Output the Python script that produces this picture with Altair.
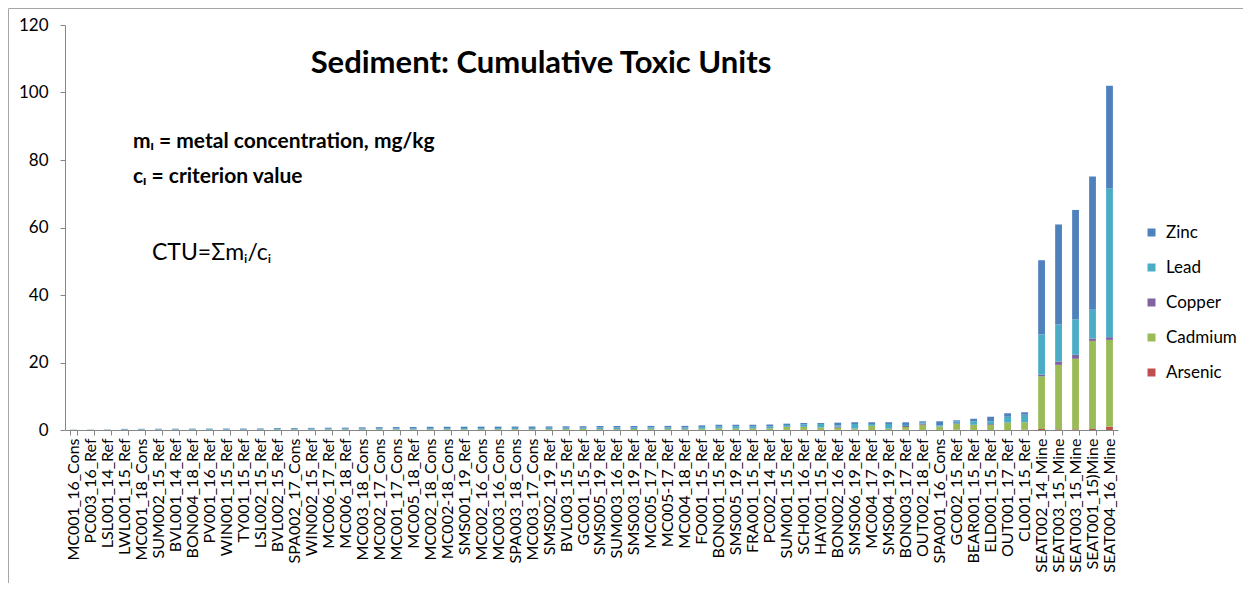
import json
import altair as alt
import pandas as pd

sites = [
    "MC001_16_Cons", "PC003_16_Ref", "LSL001_14_Ref", "LWL001_15_Ref", "MC001_18_Cons",
    "SUM002_15_Ref", "BVL001_14_Ref", "BON004_18_Ref", "PV001_16_Ref", "WIN001_15_Ref",
    "TY001_15_Ref", "LSL002_15_Ref", "BVL002_15_Ref", "SPA002_17_Cons", "WIN002_15_Ref",
    "MC006_17_Ref", "MC006_18_Ref", "MC003_18_Cons", "MC002_17_Cons", "MC001_17_Cons",
    "MC005_18_Ref", "MC002_18_Cons", "MC002-18_Cons", "SMS001_19_Ref", "MC002_16_Cons",
    "MC003_16_Cons", "SPA003_18_Cons", "MC003_17_Cons", "SMS002_19_Ref", "BVL003_15_Ref",
    "GC001_15_Ref", "SMS005_19_Ref", "SUM003_16_Ref", "SMS003_19_Ref", "MC005_17_Ref",
    "MC005-17_Ref", "MC004_18_Ref", "FO001_15_Ref", "BON001_15_Ref", "SMS005_19_Ref",
    "FRA001_15_Ref", "PC002_14_Ref", "SUM001_15_Ref", "SCH001_16_Ref", "HAY001_15_Ref",
    "BON002_16_Ref", "SMS006_19_Ref", "MC004_17_Ref", "SMS004_19_Ref", "BON003_17_Ref",
    "OUT002_18_Ref", "SPA001_16_Cons", "GC002_15_Ref", "BEAR001_15_Ref", "ELD001_15_Ref",
    "OUT001_17_Ref", "CL001_15_Ref", "SEAT002_14_Mine", "SEAT003_15_Mine", "SEAT003_15_Mine",
    "SEAT001_15)Mine", "SEAT004_16_Mine",
]

arsenic = [0.00, 0.00, 0.01, 0.01, 0.01, 0.01, 0.01, 0.01, 0.01, 0.01,
           0.01, 0.01, 0.01, 0.01, 0.01, 0.01, 0.01, 0.01, 0.02, 0.02,
           0.02, 0.02, 0.02, 0.02, 0.02, 0.02, 0.02, 0.02, 0.02, 0.02,
           0.02, 0.02, 0.02, 0.02, 0.03, 0.02, 0.03, 0.03, 0.03, 0.03,
           0.03, 0.03, 0.02, 0.02, 0.02, 0.02, 0.05, 0.02, 0.02, 0.10,
           0.03, 0.02, 0.10, 0.03, 0.03, 0.03, 0.10, 0.3, 0.2, 0.2,
           0.3, 1.0]
cadmium = [0.02, 0.02, 0.02, 0.05, 0.07, 0.06, 0.06, 0.07, 0.06, 0.05,
           0.05, 0.07, 0.10, 0.12, 0.10, 0.12, 0.12, 0.14, 0.15, 0.16,
           0.14, 0.17, 0.16, 0.18, 0.16, 0.18, 0.20, 0.17, 0.22, 0.25,
           0.30, 0.20, 0.22, 0.24, 0.28, 0.26, 0.20, 0.30, 0.40, 0.35,
           0.42, 0.45, 0.87, 0.87, 0.67, 0.67, 0.35, 1.17, 0.38, 0.79,
           1.55, 0.97, 1.68, 1.45, 1.55, 2.14, 2.17, 15.6, 19.1, 20.9,
           26.1, 25.7]
copper = [0.01, 0.01, 0.01, 0.01, 0.02, 0.02, 0.02, 0.02, 0.03, 0.02,
          0.02, 0.02, 0.02, 0.02, 0.03, 0.03, 0.03, 0.03, 0.04, 0.04,
          0.04, 0.05, 0.05, 0.04, 0.05, 0.05, 0.04, 0.05, 0.05, 0.05,
          0.04, 0.05, 0.06, 0.05, 0.06, 0.05, 0.10, 0.05, 0.07, 0.06,
          0.08, 0.07, 0.05, 0.05, 0.05, 0.30, 0.05, 0.05, 0.05, 0.30,
          0.30, 0.05, 0.20, 0.05, 0.20, 0.05, 0.05, 0.5, 1.0, 1.2,
          0.7, 0.8]
lead = [0.03, 0.04, 0.04, 0.10, 0.10, 0.12, 0.13, 0.12, 0.13, 0.16,
        0.12, 0.14, 0.20, 0.22, 0.24, 0.22, 0.24, 0.28, 0.30, 0.28,
        0.32, 0.33, 0.34, 0.36, 0.35, 0.33, 0.36, 0.37, 0.38, 0.35,
        0.34, 0.45, 0.42, 0.44, 0.40, 0.42, 0.40, 0.55, 0.60, 0.65,
        0.55, 0.50, 0.55, 0.75, 1.05, 0.40, 1.33, 0.54, 1.33, 0.30,
        0.30, 0.35, 0.59, 1.04, 0.79, 1.73, 2.22, 11.9, 11.0, 10.5,
        8.5, 44.1]
zinc = [0.04, 0.05, 0.06, 0.16, 0.15, 0.16, 0.16, 0.18, 0.18, 0.18,
        0.23, 0.21, 0.24, 0.23, 0.24, 0.30, 0.30, 0.32, 0.33, 0.36,
        0.36, 0.38, 0.40, 0.38, 0.42, 0.42, 0.40, 0.42, 0.39, 0.42,
        0.40, 0.45, 0.47, 0.45, 0.44, 0.47, 0.50, 0.45, 0.45, 0.48,
        0.50, 0.55, 0.39, 0.39, 0.29, 0.79, 0.49, 0.49, 0.49, 0.79,
        0.40, 1.19, 0.30, 0.79, 1.38, 0.99, 0.69, 22.0, 29.6, 32.4,
        39.5, 30.4]

metals = ["Zinc", "Lead", "Copper", "Cadmium", "Arsenic"]
colors = ["#4F81BD", "#4BACC6", "#8064A2", "#9BBB59", "#C0504D"]
series = [("Arsenic", arsenic), ("Cadmium", cadmium), ("Copper", copper),
          ("Lead", lead), ("Zinc", zinc)]

rows = []
for i, s in enumerate(sites):
    for k, (m, vals) in enumerate(series):
        rows.append({"idx": i, "site": s, "metal": m, "value": vals[i], "stack": k})
df = pd.DataFrame(rows)

label_expr = "[" + ",".join(json.dumps(s) for s in sites) + "][datum.value]"

FONT = "Lato"
W, H = 1053, 405

bars = alt.Chart(df).mark_bar().encode(
    x=alt.X("idx:O",
            scale=alt.Scale(paddingInner=0.6, paddingOuter=0.3),
            axis=alt.Axis(title=None, labelExpr=label_expr, labelAngle=270,
                          labelAlign="right", labelBaseline="middle",
                          labelOverlap=False, labelLimit=300, labelPadding=3,
                          tickBand="extent", tickSize=5, labelFontSize=16,
                          labelColor="#000000", domainColor="#868686",
                          tickColor="#868686")),
    y=alt.Y("value:Q", stack="zero",
            scale=alt.Scale(domain=[0, 120], nice=False),
            axis=alt.Axis(title=None, values=[0, 20, 40, 60, 80, 100, 120],
                          grid=False, tickSize=5, labelFontSize=17,
                          labelPadding=12, labelColor="#000000",
                          domainColor="#868686", tickColor="#868686")),
    color=alt.Color("metal:N",
                    scale=alt.Scale(domain=metals, range=colors),
                    legend=alt.Legend(title=None, orient="none", legendX=1078,
                                      legendY=199, symbolType="square",
                                      symbolSize=64, labelFontSize=17,
                                      rowPadding=17, labelOffset=6,
                                      labelColor="#000000")),
    order=alt.Order("stack:Q", sort="ascending"),
)

def text_layer(txt, x, y, size, weight="normal", align="left"):
    return alt.Chart(pd.DataFrame({"t": [txt]})).mark_text(
        font=FONT, fontSize=size, fontWeight=weight, align=align,
        baseline="alphabetic", color="#000000"
    ).encode(text="t:N", x=alt.value(x), y=alt.value(y))

title = text_layer("Sediment: Cumulative Toxic Units", 476, 48, 31, "bold", "center")
line1 = text_layer("m\u1d62 = metal concentration, mg/kg", 68, 123, 21, "bold")
line2 = text_layer("c\u1d62 = criterion value", 68, 158, 21, "bold")
ctu = text_layer("CTU=\u03a3m\u1d62/c\u1d62", 87, 235, 23)

frame = alt.Chart(pd.DataFrame({"a": [0]})).mark_rect(
    filled=False, stroke="#a6a6a6", strokeWidth=1
).encode(x=alt.value(-56.5), x2=alt.value(1181.5), y=alt.value(-16.5), y2=alt.value(620))

chart = alt.layer(frame, bars, title, line1, line2, ctu).properties(
    width=W, height=H,
    autosize=alt.AutoSizeParams(type="none"),
    padding={"left": 57, "top": 17, "right": 125, "bottom": 153},
).configure(font=FONT).configure_view(stroke=None).configure_axis(
    labelFont=FONT).configure_legend(labelFont=FONT)

chart.save("out.html", embed_options={"renderer": "svg", "actions": False})
